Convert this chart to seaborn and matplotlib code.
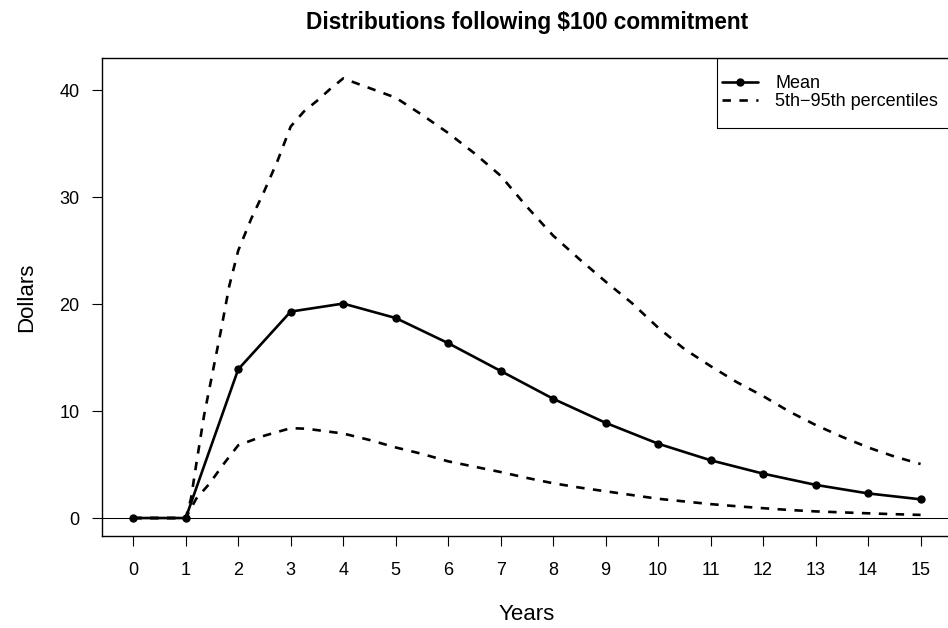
import matplotlib
matplotlib.use("Agg")
import matplotlib.pyplot as plt
from matplotlib.patches import Rectangle
import seaborn as sns
import pandas as pd

# values
years = list(range(16))
mean_dollars = [0, 0, 13.9, 19.3, 20.05, 18.7, 16.35, 13.75, 11.15, 8.9,
                6.95, 5.4, 4.15, 3.1, 2.3, 1.75]

upper_years = [0, 1, 1.1, 1.2, 1.35, 1.5, 1.67, 1.83, 2, 2.25, 2.5, 2.75, 3,
               3.25, 3.5, 3.75, 4, 4.5, 5, 5.5, 6, 6.5, 7, 7.5, 8, 8.5, 9,
               9.5, 10, 10.5, 11, 11.5, 12, 12.5, 13, 13.5, 14, 14.5, 15]
upper_dollars = [0, 0, 1.8, 5.0, 9.6, 13.3, 17.5, 21.7, 25.0, 28.0, 30.6, 33.4,
                 36.6, 38.0, 39.0, 40.1, 41.1, 40.2, 39.3, 37.7, 36.0, 34.1,
                 32.0, 29.1, 26.4, 24.2, 22.1, 20.1, 17.8, 15.8, 14.2, 12.7,
                 11.4, 9.95, 8.7, 7.6, 6.6, 5.75, 5.05]

lower_years = [0, 1, 1.1, 1.2, 1.45, 1.73, 2, 2.5, 3, 3.3, 4, 4.5, 5, 5.5, 6,
               6.5, 7, 7.5, 8, 8.5, 9, 9.5, 10, 10.5, 11, 11.5, 12, 12.5, 13,
               13.5, 14, 14.5, 15]
lower_dollars = [0, 0, 0.9, 1.8, 3.2, 5.1, 6.8, 7.7, 8.4, 8.35, 7.9, 7.3, 6.6,
                 6.0, 5.3, 4.8, 4.3, 3.75, 3.25, 2.85, 2.5, 2.15, 1.8, 1.55,
                 1.3, 1.1, 0.92, 0.75, 0.62, 0.53, 0.44, 0.36, 0.29]

mean_df = pd.DataFrame({"Years": years, "Dollars": mean_dollars})
upper_df = pd.DataFrame({"Years": upper_years, "Dollars": upper_dollars})
lower_df = pd.DataFrame({"Years": lower_years, "Dollars": lower_dollars})

sns.set_theme(style="ticks")
plt.rcParams["font.family"] = ["Liberation Sans", "DejaVu Sans"]
plt.rcParams["text.color"] = "black"
plt.rcParams["axes.labelcolor"] = "black"

fig = plt.figure(figsize=(9.48, 6.28), dpi=100)
ax = fig.add_axes([0.1073, 0.1465, 0.897, 0.761])

dash = (0, (3.2, 3.2))
ax.axhline(0, color="black", lw=0.75, zorder=1)
sns.lineplot(data=upper_df, x="Years", y="Dollars", ax=ax, color="black",
             lw=1.9, linestyle=dash, estimator=None, sort=False)
sns.lineplot(data=lower_df, x="Years", y="Dollars", ax=ax, color="black",
             lw=1.9, linestyle=dash, estimator=None, sort=False)
sns.lineplot(data=mean_df, x="Years", y="Dollars", ax=ax, color="black",
             lw=1.9, marker="o", markersize=6, markeredgewidth=0,
             estimator=None, sort=False)

ax.set_xlim(-0.6, 15.6)
ax.set_ylim(-1.68, 43.0)
ax.set_xticks(years)
ax.set_yticks([0, 10, 20, 30, 40])
ax.tick_params(axis="both", direction="out", length=7.5, width=0.8,
               labelsize=13, color="black", labelcolor="black")
ax.tick_params(axis="x", pad=11)
ax.tick_params(axis="y", pad=8.5)
for side in ["top", "bottom", "left", "right"]:
    ax.spines[side].set_visible(True)
    ax.spines[side].set_color("black")
    ax.spines[side].set_linewidth(1.0)

ax.set_xlabel("Years", fontsize=16, labelpad=18)
ax.set_ylabel("Dollars", fontsize=16, labelpad=16)
ax.set_title("Distributions following $100 commitment", fontsize=16.3,
             fontweight="bold", pad=21)

# legend box sits in the top right corner, partly cut off by the figure edge
box_left, box_bottom = 0.7235, 0.8536
ax.add_patch(Rectangle((box_left, box_bottom), 1 - box_left, 1 - box_bottom,
                       transform=ax.transAxes, fill=False, edgecolor="black",
                       lw=0.8, zorder=5))
handles = [
    plt.Line2D([], [], color="black", lw=1.9, marker="o", markersize=6,
               markeredgewidth=0),
    plt.Line2D([], [], color="black", lw=1.9, linestyle=dash),
]
ax.legend(handles, ["Mean", "5th\u221295th percentiles"],
          loc="upper left", bbox_to_anchor=(box_left + 0.006, 0.9644),
          borderaxespad=0, borderpad=0, fontsize=13, frameon=False,
          handlelength=2, handletextpad=0.95, labelspacing=0.07,
          numpoints=1)

fig.savefig("out.png", dpi=100)
